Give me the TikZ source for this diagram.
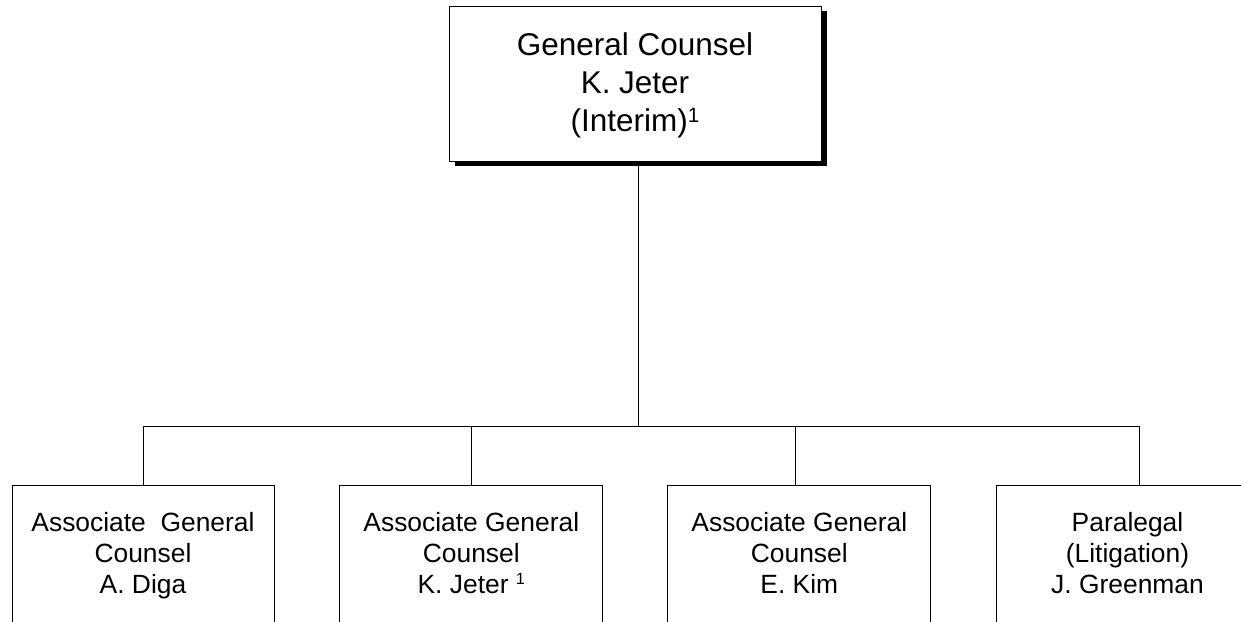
\documentclass[tikz,border=0pt]{standalone}
\usepackage{fontspec}
\setmainfont{Liberation Sans}
\usetikzlibrary{shadows}
\begin{document}
\begin{tikzpicture}[x=0.75pt,y=-0.75pt,
  every node/.style={inner sep=0pt, outer sep=0pt},
  headbox/.style={draw=black, fill=white, line width=0.75pt,
    minimum width=279pt, minimum height=116.25pt, align=center,
    font=\fontsize{23.6pt}{28.7pt}\selectfont,
    drop shadow={shadow xshift=4.5pt, shadow yshift=-3.75pt, fill=black, opacity=1}},
  staffbox/.style={draw=black, fill=white, line width=0.75pt,
    minimum width=197pt, minimum height=107.5pt, anchor=north, align=center,
    font=\fontsize{19.8pt}{23.3pt}\selectfont},
  link/.style={draw=black, line width=0.75pt}]
\useasboundingbox (0,0) rectangle (1241,621);
\begin{scope}
\clip (0,0) rectangle (1241,621);

% head of office
\node[headbox] (head) at (635,83.5)
  {\strut General Counsel\\K. Jeter\\(Interim)\raisebox{7.2pt}{\fontsize{15.5pt}{15.5pt}\selectfont 1}};

% staff boxes
\node[staffbox, minimum width=196.5pt] (s1) at (143,485)
  {\strut Associate\ \ General\\Counsel\\A. Diga\strut};
\node[staffbox] (s2) at (471.3,485)
  {\strut Associate General\\Counsel\\K. Jeter \raisebox{6.75pt}{\fontsize{12.2pt}{12pt}\selectfont 1}\strut};
\node[staffbox] (s3) at (799.3,485)
  {\strut Associate General\\Counsel\\E. Kim\strut};
\node[staffbox] (s4) at (1127.5,485)
  {\strut Paralegal\\(Litigation)\\J. Greenman\strut};

% reporting lines
\coordinate (hub) at (638,426);
\coordinate (d1) at (143,426);
\coordinate (d2) at (471.7,426);
\coordinate (d3) at (795,426);
\coordinate (d4) at (1139,426);
\draw[link] (head.south -| hub) -- (hub);
\draw[link] (d1) -- (d4);
\draw[link] (d1) -- (d1 |- s1.north);
\draw[link] (d2) -- (d2 |- s2.north);
\draw[link] (d3) -- (d3 |- s3.north);
\draw[link] (d4) -- (d4 |- s4.north);
\end{scope}
\end{tikzpicture}
\end{document}
